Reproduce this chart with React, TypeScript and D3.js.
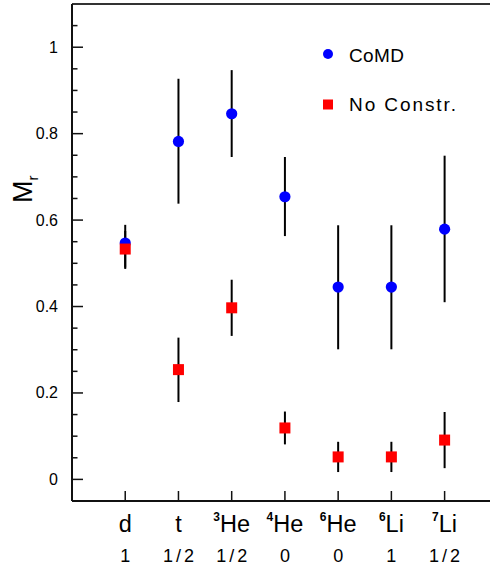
import React from "react";
import * as d3 from "d3";

const baseLabels = ["d", "t", "He", "He", "He", "Li", "Li"];
const supLabels = ["", "", "3", "4", "6", "6", "7"];
const spins = ["1", "1/2", "1/2", "0", "0", "1", "1/2"];

const comd = [0.547, 0.782, 0.846, 0.654, 0.445, 0.445, 0.579];
const comdLo = [0.487, 0.638, 0.746, 0.563, 0.301, 0.301, 0.41];
const comdHi = [0.589, 0.927, 0.947, 0.746, 0.588, 0.588, 0.749];

const noConstr = [0.533, 0.254, 0.397, 0.119, 0.052, 0.052, 0.091];
const noConstrLo = [0.49, 0.179, 0.332, 0.081, 0.017, 0.017, 0.026];
const noConstrHi = [0.575, 0.328, 0.462, 0.157, 0.087, 0.087, 0.156];

const majorTicks = [0, 0.2, 0.4, 0.6, 0.8, 1];
const tickLabels = ["0", "0.2", "0.4", "0.6", "0.8", "1"];

const W = 490;
const H = 569;
const FONT = "'Liberation Sans', Arial, Helvetica, sans-serif";

export default function App() {
  const x = d3.scaleLinear().domain([0, 8]).range([72, 72 + 8 * 53.23]);
  const y = d3.scaleLinear().domain([-0.05, 1.1]).range([501, 4]);
  const minorTicks = d3.range(-0.05, 1.1, 0.05).map((v) => Math.round(v * 100) / 100).filter((v) => !majorTicks.some((m) => Math.abs(m - v) < 1e-6) && v > -0.04);
  const x0 = x(0);
  const yBot = y(-0.05);
  const yTop = y(1.1);

  return (
    <svg width={W} height={H} style={{ position: "absolute", left: 0, top: 0, background: "#fff" }} fontFamily={FONT}>
      {/* frame */}
      <line x1={x0} x2={W} y1={yTop} y2={yTop} stroke="#333" strokeWidth={2} />
      <line x1={x0} x2={W} y1={yBot} y2={yBot} stroke="#111" strokeWidth={2} />
      <line x1={x0} x2={x0} y1={yTop} y2={yBot} stroke="#111" strokeWidth={2} />

      {/* y ticks */}
      {majorTicks.map((v, i) => (
        <g key={"mj" + i}>
          <line x1={x0} x2={x0 + 11} y1={y(v)} y2={y(v)} stroke="#111" strokeWidth={1.5} />
          <text x={58} y={y(v) + 5.5} fontSize={16} textAnchor="end" fill="#000">{tickLabels[i]}</text>
        </g>
      ))}
      {minorTicks.map((v, i) => (
        <line key={"mn" + i} x1={x0} x2={x0 + 5.5} y1={y(v)} y2={y(v)} stroke="#111" strokeWidth={1.5} />
      ))}

      {/* x ticks */}
      {baseLabels.map((_, i) => (
        <line key={"xt" + i} x1={x(i + 1)} x2={x(i + 1)} y1={yBot} y2={yBot - 10} stroke="#111" strokeWidth={1.5} />
      ))}

      {/* x labels */}
      {baseLabels.map((b, i) => (
        <text key={"xl" + i} x={x(i + 1)} y={532} textAnchor="middle" fontSize={23.5} fill="#000">
          {supLabels[i] ? (
            <tspan fontSize={12} fontWeight="bold" dy={-11}>{supLabels[i]}</tspan>
          ) : null}
          <tspan dy={supLabels[i] ? 11 : 0}>{b}</tspan>
        </text>
      ))}
      {spins.map((s, i) => (
        <text key={"sp" + i} x={x(i + 1)} y={562} textAnchor="middle" fontSize={18} fill="#000"
          {...(s.length > 1 ? { textLength: 31, lengthAdjust: "spacing" } : {})}>{s}</text>
      ))}

      {/* y label */}
      <text transform="translate(32,203) rotate(-90)" fontSize={27} fill="#000">
        M<tspan fontSize={15} dy={6}>r</tspan>
      </text>

      {/* error bars */}
      {comd.map((_, i) => (
        <line key={"ec" + i} x1={x(i + 1)} x2={x(i + 1)} y1={y(comdLo[i])} y2={y(comdHi[i])} stroke="#000" strokeWidth={2} />
      ))}
      {noConstr.map((_, i) => (
        <line key={"en" + i} x1={x(i + 1)} x2={x(i + 1)} y1={y(noConstrLo[i])} y2={y(noConstrHi[i])} stroke="#000" strokeWidth={2} />
      ))}

      {/* markers */}
      {comd.map((v, i) => (
        <circle key={"c" + i} cx={x(i + 1)} cy={y(v)} r={5.6} fill="#0000ff" />
      ))}
      {noConstr.map((v, i) => (
        <rect key={"s" + i} x={x(i + 1) - 5.5} y={y(v) - 5.5} width={11} height={11} fill="#ff0000" />
      ))}

      {/* legend */}
      <circle cx={328} cy={54} r={5} fill="#0000ff" />
      <text x={349} y={62} fontSize={19} fill="#000" textLength={55} lengthAdjust="spacing">CoMD</text>
      <rect x={323} y={99.5} width={10} height={10} fill="#ff0000" />
      <text x={349} y={111} fontSize={19} fill="#000" textLength={107} lengthAdjust="spacing">No Constr.</text>
    </svg>
  );
}
